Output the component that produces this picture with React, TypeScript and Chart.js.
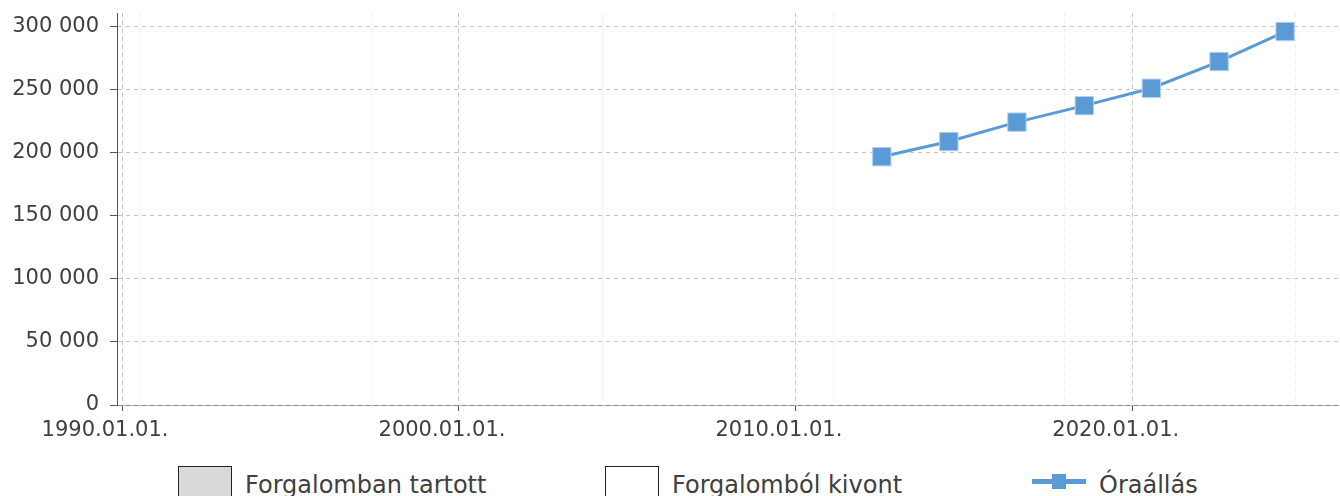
import React, { useEffect, useRef } from "react";
import { Chart, registerables } from "chart.js";

Chart.register(...registerables);

// ---- data ----
const readingYears: number[] = [2012.55, 2014.54, 2016.56, 2018.56, 2020.55, 2022.56, 2024.52];
const readingValues: number[] = [197000, 209000, 224400, 237500, 251300, 272500, 296300];
const inServiceValues: { x: number; y: number }[] = [];
const withdrawnValues: { x: number; y: number }[] = [];
const majorTickYears: number[] = [1990, 2000, 2010, 2020];
const minorGridYears: number[] = [1990.54, 1997.4, 2004.25, 2011.1, 2017.96, 2024.81];
const yTickValues: number[] = [0, 50000, 100000, 150000, 200000, 250000, 300000];
const xRange: number[] = [1989.85, 2026.09];
const yRange: number[] = [0, 311000];

const seriesLabels = ["Forgalomban tartott", "Forgalomból kivont", "Óraállás"];

const FONT = "'DejaVu Sans', Verdana, sans-serif";
const TEXT = "#404040";
const BLUE = "#5b9bd5";

const minorGridPlugin = {
  id: "minorGrid",
  beforeDatasetsDraw(chart: any) {
    const { ctx, chartArea, scales } = chart;
    ctx.save();
    ctx.strokeStyle = "#ececec";
    ctx.lineWidth = 1;
    ctx.setLineDash([4, 4]);
    minorGridYears.forEach((yr) => {
      const x = Math.round(scales.x.getPixelForValue(yr)) + 0.5;
      ctx.beginPath();
      ctx.moveTo(x, chartArea.top);
      ctx.lineTo(x, chartArea.bottom);
      ctx.stroke();
    });
    ctx.restore();
  },
};

const fmt = (v: number) => String(v).replace(/\B(?=(\d{3})+(?!\d))/g, " ");

export default function App() {
  const ref = useRef<HTMLCanvasElement | null>(null);

  useEffect(() => {
    if (!ref.current) return;
    const chart = new Chart(ref.current, {
      type: "line",
      data: {
        datasets: [
          {
            type: "bar",
            label: seriesLabels[0],
            data: inServiceValues,
            backgroundColor: "#d9d9d9",
            borderColor: "#222",
            borderWidth: 1,
          } as any,
          {
            type: "bar",
            label: seriesLabels[1],
            data: withdrawnValues,
            backgroundColor: "#ffffff",
            borderColor: "#222",
            borderWidth: 1,
          } as any,
          {
            type: "line",
            label: seriesLabels[2],
            data: readingYears.map((x, i) => ({ x, y: readingValues[i] })),
            borderColor: BLUE,
            backgroundColor: BLUE,
            borderWidth: 3,
            tension: 0,
            pointStyle: "rect",
            pointRadius: 13,
            pointBackgroundColor: BLUE,
            pointBorderColor: "#b3d0ee",
            pointBorderWidth: 1,
          },
        ],
      },
      options: {
        animation: false,
        responsive: false,
        devicePixelRatio: 1,
        layout: { autoPadding: false, padding: { top: 13, right: 2, left: 0, bottom: 0 } },
        plugins: { legend: { display: false }, tooltip: { enabled: false } },
        scales: {
          x: {
            type: "linear",
            offset: false,
            min: xRange[0],
            max: xRange[1],
            afterBuildTicks: (s: any) => {
              s.ticks = majorTickYears.map((v) => ({ value: v }));
            },
            afterFit: (s: any) => {
              s.height = 55;
              s.paddingLeft = 0;
              s.paddingRight = 0;
            },
            ticks: {
              autoSkip: false,
              maxRotation: 0,
              labelOffset: -17,
              padding: 7,
              color: TEXT,
              font: { family: FONT, size: 21 },
              callback: (v: any) => `${v}.01.01.`,
            },
            grid: {
              offset: false,
              color: "#c4c4c4",
              lineWidth: 1,
              tickLength: 6,
              tickColor: "#555",
              tickBorderDash: [],
            },
            border: { display: true, color: "rgba(0,0,0,0.3)", width: 1, dash: [4, 4] },
          },
          y: {
            type: "linear",
            min: yRange[0],
            max: yRange[1],
            afterBuildTicks: (s: any) => {
              s.ticks = yTickValues.map((v) => ({ value: v }));
            },
            afterFit: (s: any) => {
              s.width = 117;
              s.paddingTop = 0;
              s.paddingBottom = 0;
            },
            ticks: {
              padding: 11,
              color: TEXT,
              font: { family: FONT, size: 21 },
              callback: (v: any) => fmt(Number(v)),
            },
            grid: {
              color: "#c4c4c4",
              lineWidth: 1,
              tickLength: 7,
              tickColor: "#555",
              tickBorderDash: [],
            },
            border: { display: true, color: "#555", width: 1, dash: [4, 4] },
          },
        },
      },
      plugins: [minorGridPlugin],
    });
    return () => chart.destroy();
  }, []);

  const legendItems = [
    { kind: "box", fill: "#d9d9d9", label: seriesLabels[0] },
    { kind: "box", fill: "#ffffff", label: seriesLabels[1] },
    { kind: "line", fill: BLUE, label: seriesLabels[2] },
  ];

  return (
    <div
      style={{
        position: "fixed",
        left: 0,
        top: 0,
        width: 1340,
        height: 520,
        background: "#fff",
        overflow: "hidden",
      }}
    >
      <canvas ref={ref} width={1340} height={460} style={{ position: "absolute", left: 0, top: 0, width: 1340, height: 460 }} />
      {legendItems.map((it, i) => (
        <div
          key={i}
          style={{
            position: "absolute",
            left: 178 + i * 427,
            top: 466,
            height: 40,
            display: "flex",
            alignItems: "flex-start",
            fontFamily: FONT,
            fontSize: 24,
            color: TEXT,
            whiteSpace: "nowrap",
          }}
        >
          {it.kind === "box" ? (
            <div
              style={{
                width: 52,
                height: 34,
                background: it.fill,
                border: "1px solid #222",
              }}
            />
          ) : (
            <div style={{ position: "relative", width: 54, height: 34 }}>
              <div style={{ position: "absolute", left: 0, top: 13, width: 54, height: 5, background: BLUE }} />
              <div style={{ position: "absolute", left: 20, top: 8, width: 14, height: 15, background: BLUE }} />
            </div>
          )}
          <span style={{ marginLeft: 13, lineHeight: "24px", marginTop: 7 }}>{it.label}</span>
        </div>
      ))}
    </div>
  );
}
